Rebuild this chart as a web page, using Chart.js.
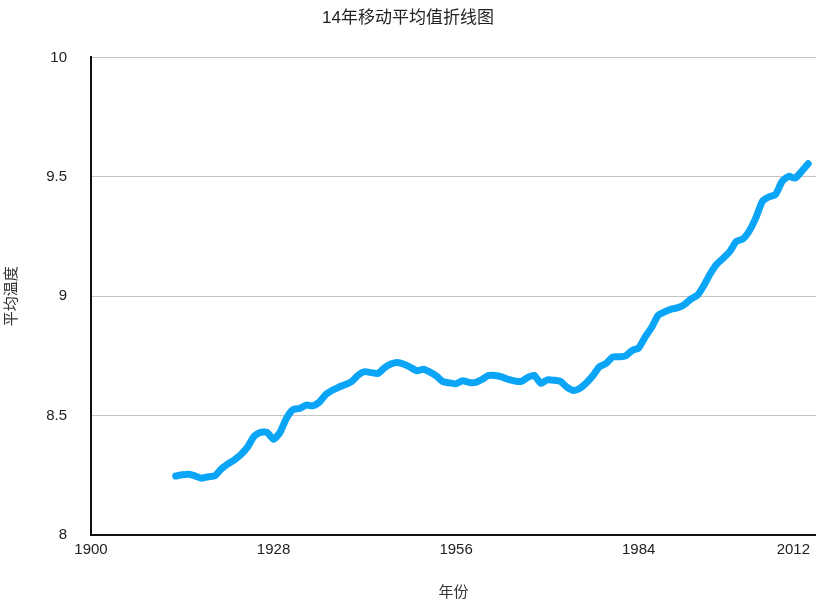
<!DOCTYPE html>
<html>
<head>
<meta charset="utf-8">
<script src="https://cdn.jsdelivr.net/npm/chart.js@4"></script>
<style>
  html, body { margin: 0; padding: 0; background: #fff; overflow: hidden; }
</style>
</head>
<body>
<canvas id="myChart" width="816" height="606"></canvas>
<script>
const years = [
  1913, 1914, 1915, 1916, 1917, 1918, 1919, 1920, 1921, 1922,
  1923, 1924, 1925, 1926, 1927, 1928, 1929, 1930, 1931, 1932,
  1933, 1934, 1935, 1936, 1937, 1938, 1939, 1940, 1941, 1942,
  1943, 1944, 1945, 1946, 1947, 1948, 1949, 1950, 1951, 1952,
  1953, 1954, 1955, 1956, 1957, 1958, 1959, 1960, 1961, 1962,
  1963, 1964, 1965, 1966, 1967, 1968, 1969, 1970, 1971, 1972,
  1973, 1974, 1975, 1976, 1977, 1978, 1979, 1980, 1981, 1982,
  1983, 1984, 1985, 1986, 1987, 1988, 1989, 1990, 1991, 1992,
  1993, 1994, 1995, 1996, 1997, 1998, 1999, 2000, 2001, 2002,
  2003, 2004, 2005, 2006, 2007, 2008, 2009, 2010,
]
const movingAvg = [
  8.247, 8.252, 8.254, 8.247, 8.238, 8.244, 8.248, 8.277, 8.298, 8.315,
  8.337, 8.368, 8.413, 8.430, 8.430, 8.401, 8.430, 8.490, 8.525, 8.530,
  8.544, 8.541, 8.556, 8.588, 8.606, 8.619, 8.630, 8.643, 8.670, 8.684,
  8.680, 8.676, 8.700, 8.716, 8.722, 8.715, 8.702, 8.688, 8.694, 8.682,
  8.665, 8.642, 8.637, 8.633, 8.646, 8.639, 8.639, 8.652, 8.668, 8.668,
  8.662, 8.652, 8.645, 8.643, 8.660, 8.668, 8.635, 8.650, 8.648, 8.643,
  8.619, 8.605, 8.615, 8.638, 8.668, 8.705, 8.718, 8.745, 8.746, 8.750,
  8.773, 8.783, 8.830, 8.870, 8.920, 8.935, 8.946, 8.952, 8.965, 8.988,
  9.004, 9.045, 9.095, 9.135, 9.160, 9.188, 9.230, 9.240, 9.275, 9.330,
  9.398, 9.416, 9.426, 9.481, 9.502, 9.495, 9.523, 9.555,
]
const xTicks = [1900, 1928, 1956, 1984, 2012]
const yTicks = ['8', '8.5', '9', '9.5', '10']

const fontFamily = '"Liberation Sans", "Noto Sans CJK SC", sans-serif'
Chart.defaults.font.family = fontFamily
Chart.defaults.font.size = 15
Chart.defaults.color = '#333'

// keep the last year label inside the canvas, like the original
const pullLastLabel = {
  id: 'pullLastLabel',
  beforeDraw(chart) {
    const items = chart.scales.x.getLabelItems()
    const last = items[items.length - 1]
    last.options.translation[0] = chart.chartArea.right - 6
    last.options.textAlign = 'right'
  },
}

new Chart(document.getElementById('myChart'), {
  type: 'line',
  data: {
    datasets: [
      {
        label: '14年移动平均值',
        data: years.map((y, i) => ({ x: y, y: movingAvg[i] })),
        borderColor: '#0aa5f7',
        borderWidth: 7,
        borderCapStyle: 'round',
        borderJoinStyle: 'round',
        pointRadius: 0,
        tension: 0.2,
      },
    ],
  },
  plugins: [pullLastLabel],
  options: {
    responsive: false,
    animation: false,
    layout: { padding: 0 },
    plugins: {
      legend: { display: false },
      tooltip: { enabled: false },
      title: {
        display: true,
        text: '14年移动平均值折线图',
        font: { size: 17, weight: 'normal' },
        color: '#222',
        padding: { top: 8, bottom: 29 },
      },
    },
    scales: {
      x: {
        type: 'linear',
        min: 1900,
        max: 2011.2,
        afterBuildTicks: (scale) => {
          scale.ticks = xTicks.map((v) => ({ value: v }))
        },
        afterFit: (scale) => {
          scale.height = 71
          scale.paddingRight = 0
        },
        ticks: {
          autoSkip: false,
          maxRotation: 0,
          padding: 6,
          color: '#222',
          callback: (v) => String(v),
        },
        grid: { display: false, drawTicks: false },
        border: { display: true, color: '#111', width: 2 },
        title: {
          display: true,
          text: '年份',
          color: '#333',
          padding: { top: 0, bottom: 4 },
        },
      },
      y: {
        min: 8,
        max: 10,
        afterBuildTicks: (scale) => {
          scale.ticks = yTicks.map((t) => ({ value: Number(t) }))
        },
        afterFit: (scale) => {
          scale.width = 91
        },
        ticks: {
          padding: 24,
          color: '#222',
          callback: (v) => yTicks.find((t) => Number(t) === v),
        },
        grid: { color: '#c4c4c4', lineWidth: 1, drawTicks: false },
        border: { display: true, color: '#111', width: 2 },
        title: {
          display: true,
          text: '平均温度',
          color: '#333',
          padding: { top: 3, bottom: 0 },
        },
      },
    },
  },
})
</script>
</body>
</html>
